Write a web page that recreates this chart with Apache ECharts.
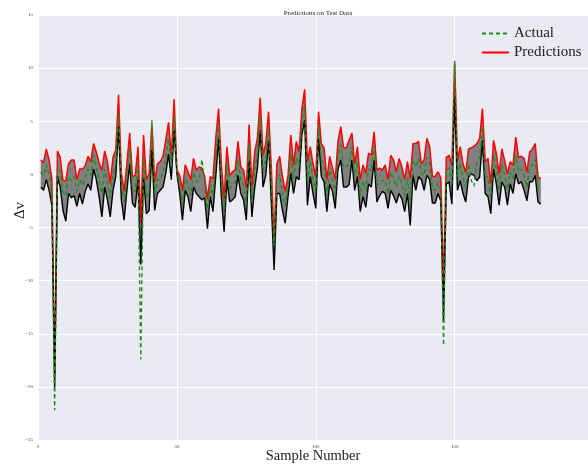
<!DOCTYPE html>
<html>
<head>
<meta charset="utf-8">
<script src="https://cdn.jsdelivr.net/npm/echarts@6/dist/echarts.min.js"></script>
<style>
html,body{margin:0;padding:0;background:#fff;}
#c{width:588px;height:465px;}
</style>
</head>
<body>
<div id="c"></div>
<script>
// Upper bound (red, "Predictions")
var predicted = [1.35,1.1,2.4,1.35,-0.5,-19.0,2.2,1.6,-0.6,-0.6,1.0,1.35,1.35,-0.5,0.5,0.5,0.8,1.7,1.2,2.9,
2.1,1.1,0.4,2.2,1.2,-0.85,1.6,2.3,7.5,0.1,-1.6,1.0,3.9,-0.2,-0.1,2.6,-4.5,3.7,-0.5,0.1,
4.7,-0.7,1.0,1.2,1.7,3.2,4.9,1.7,7.1,0.4,-0.1,-1.5,0.9,0.25,-0.5,1.5,0.4,0.7,0.6,-0.2,
-2.3,-0.2,-0.4,3.4,6.2,1.0,-2.4,2.6,-0.1,0.25,0.4,3.1,0.7,0.4,-1.3,4.7,-1.2,2.1,3.4,7.2,
1.8,2.9,5.9,0.6,-6.1,1.0,1.7,-0.2,-1.6,-0.2,3.7,0.9,3.1,2.1,6.2,8.0,1.2,2.6,1.0,-0.2,
5.9,2.9,2.5,-0.5,1.7,0.6,-0.5,3.1,4.5,2.5,2.5,3.2,3.9,1.0,2.6,-0.5,0.9,0.1,2.0,1.8,
4.0,0.4,0.6,0.4,0.9,-0.5,1.8,1.35,0.25,1.5,0.7,-0.5,1.2,-0.4,2.9,2.9,3.1,1.0,1.35,3.4,
2.6,-0.2,-0.2,0.25,-0.3,-10.5,1.6,1.8,0.85,10.5,1.3,2.6,1.0,0.2,2.4,2.5,2.65,2.9,3.4,6.2,
1.2,1.5,-0.9,3.2,2.0,0.05,2.4,1.3,0.05,1.2,0.85,3.5,1.6,1.7,1.5,0.2,2.1,2.4,2.9,-0.25,-0.4];

// Lower bound (black)
var lower = [-1.2,-1.5,-0.5,-1.5,-2.9,-20.0,-0.2,-1.2,-3.4,-4.4,-1.8,-2.2,-2.0,-3.0,-1.8,-2.8,-1.6,-0.9,-1.5,0.5,
-0.5,-2.1,-4.0,-1.2,-2.4,-4.0,-1.5,-0.2,4.5,-2.4,-4.3,-1.5,1.0,-2.7,-3.1,-0.5,-8.5,-0.2,-3.7,-3.4,
2.3,-3.4,-1.8,-1.5,-1.2,0.1,1.9,-0.5,4.2,0.1,-1.8,-4.3,-1.5,-2.1,-3.5,-1.2,-1.8,-2.1,-2.4,-2.2,
-5.1,-2.1,-3.5,-0.2,3.4,-2.1,-5.4,-0.5,-2.6,-2.4,-2.1,-0.1,-1.8,-2.4,-4.3,1.35,-4.0,-1.3,0.6,4.2,
-1.2,-0.1,3.2,-2.7,-9.0,-1.8,-1.8,-3.4,-4.6,-2.1,0.1,-1.8,-0.2,-0.5,3.7,5.1,-2.9,-0.2,-1.8,-3.2,
3.4,-0.2,-0.7,-3.5,-0.9,-1.6,-3.2,0.5,1.35,-1.2,-1.2,-1.0,1.35,-1.5,-0.2,-3.5,-2.1,-3.1,-0.9,-1.2,
1.35,-2.6,-2.0,-1.6,-1.8,-3.2,-1.5,-2.0,-2.7,-1.8,-2.3,-3.5,-1.8,-4.8,-0.1,-1.5,-0.2,-0.5,-1.5,-0.1,
-0.5,-2.7,-2.7,-1.8,-2.5,-13.8,-0.9,-0.7,-2.8,7.3,-1.5,-0.6,-1.8,-2.6,-0.25,0.05,-0.1,-0.6,-0.25,3.2,
-1.8,-2.1,-3.7,0.5,-0.9,-2.9,-0.7,-1.2,-2.9,-0.9,-1.8,0.05,-0.9,-0.7,-1.5,-2.5,-0.7,-0.7,-0.1,-2.6,-2.8];

// Actual (green dashed)
var actual = [0.2,-0.1,0.9,0.0,-1.5,-22.2,0.5,0.3,-1.6,-2.0,-0.2,-0.6,-0.2,-1.6,-0.5,-1.0,-0.3,0.5,-0.1,1.8,
0.6,-0.6,-1.8,0.5,-0.8,-2.2,0.0,1.0,5.8,-1.0,-2.6,-0.2,2.4,-1.4,-1.6,1.0,-17.4,1.6,-2.2,-1.5,
5.1,-2.0,-0.5,-0.6,0.2,1.5,3.3,0.6,5.6,0.3,-1.0,-2.8,-0.4,-0.9,-2.0,0.2,-0.7,-0.6,1.4,-0.8,
-3.6,-1.0,-2.0,1.6,4.8,-0.6,-3.8,1.0,-1.3,-1.0,-0.8,1.4,-0.6,-1.0,-2.8,3.0,-2.6,0.4,1.9,5.6,
0.3,1.4,4.4,-1.0,-6.7,-0.4,0.0,-1.8,-3.0,-1.1,1.9,-0.4,1.5,0.8,4.9,6.5,-0.8,1.2,-0.4,-1.7,
4.6,1.3,0.9,-2.0,0.4,-0.5,-1.8,1.8,2.8,0.6,0.7,1.0,2.6,-0.2,1.2,-2.0,-0.6,-1.5,0.5,0.3,
2.7,-1.1,-0.7,-0.6,-0.5,-1.8,0.2,-0.4,-1.2,-0.2,-0.8,-2.0,-0.3,-2.6,1.4,0.7,1.5,0.2,-0.1,1.6,
1.0,-1.4,-1.5,-0.8,-1.4,-16.1,0.4,0.6,-1.0,10.7,-0.2,1.0,-0.4,-1.2,1.0,-0.6,-1.1,1.2,1.6,4.5,
-0.3,-0.2,-2.2,1.8,0.5,-1.4,0.9,-0.1,-1.4,0.2,-0.4,1.8,0.3,0.5,-0.1,-1.2,0.7,0.9,1.4,-1.4,-1.6];

var firstSample = 1;
var xTicks = [0, 50, 100, 150];
var yTicks = [-25, -20, -15, -10, -5, 0, 5, 10, 15];

function pairs(arr) { return arr.map(function (v, k) { return [firstSample + k, v]; }); }

var serif = '"Liberation Serif","DejaVu Serif",serif';
var chart = echarts.init(document.getElementById('c'), null, {renderer: 'canvas'});
chart.setOption({
  animation: false,
  backgroundColor: '#ffffff',
  title: {
    text: 'Predictions on Test Data',
    left: 313, top: 5, textAlign: 'center',
    textStyle: {fontFamily: serif, fontSize: 7, fontWeight: 'normal', color: '#222'}
  },
  grid: {left: 38, top: 15, right: 0, bottom: 25, show: true, backgroundColor: '#EAEAF2', borderWidth: 0,
    containLabel: false, outerBoundsMode: 'none'},
  legend: {
    orient: 'vertical', left: 476, top: 21, itemWidth: 27, itemHeight: 14, itemGap: 4,
    data: ['Actual', 'Predictions'],
    itemStyle: {opacity: 0},
    textStyle: {fontFamily: serif, fontSize: 15, color: '#222', lineHeight: 14}
  },
  xAxis: {
    type: 'value', min: 0, max: 198, interval: 50,
    name: 'Sample Number', nameLocation: 'middle', nameGap: 9, nameMoveOverlap: false,
    nameTextStyle: {fontFamily: serif, fontSize: 14.5, color: '#222', verticalAlign: 'top'},
    axisLine: {show: false}, axisTick: {show: false},
    axisLabel: {fontSize: 5, color: '#444', margin: 4, fontFamily: serif, showMaxLabel: false,
      formatter: function (v) { return xTicks.indexOf(v) >= 0 ? String(v) : ''; }},
    splitLine: {lineStyle: {color: '#ffffff', width: 1}}
  },
  yAxis: {
    type: 'value', min: -25, max: 15, interval: 5,
    name: '\u0394v', nameLocation: 'middle', nameGap: 18, nameRotate: 90, nameMoveOverlap: false,
    nameTextStyle: {fontFamily: serif, fontSize: 15, color: '#222', verticalAlign: 'middle', padding: [0, 0, 0, 34]},
    axisLine: {show: false}, axisTick: {show: false},
    axisLabel: {fontSize: 5, color: '#444', margin: 5, fontFamily: serif,
      formatter: function (v) { return yTicks.indexOf(v) >= 0 ? String(v).replace('-', '\u2212') : ''; }},
    splitLine: {lineStyle: {color: '#ffffff', width: 1}}
  },
  series: [
    {name: 'band', type: 'custom', silent: true, z: 1,
      data: [[firstSample, 0]],
      renderItem: function (params, api) {
        var pts = [];
        for (var k = 0; k < predicted.length; k++) pts.push(api.coord([firstSample + k, predicted[k]]));
        for (var j = lower.length - 1; j >= 0; j--) pts.push(api.coord([firstSample + j, lower[j]]));
        return {type: 'polygon', shape: {points: pts}, style: {fill: '#808080', stroke: null}};
      }},
    {name: 'Predictions', type: 'line', data: pairs(predicted), symbol: 'none',
      lineStyle: {color: '#ff0000', width: 1.5}, itemStyle: {color: '#ff0000'}, z: 3},
    {name: 'Lower', type: 'line', data: pairs(lower), symbol: 'none',
      lineStyle: {color: '#000000', width: 1.4}, itemStyle: {color: '#000000'}, z: 4},
    {name: 'Actual', type: 'line', data: pairs(actual), symbol: 'none',
      lineStyle: {color: '#1f8c1f', width: 1.4, type: [4, 3]}, itemStyle: {color: '#1f8c1f'}, z: 5}
  ]
});
</script>
</body>
</html>
